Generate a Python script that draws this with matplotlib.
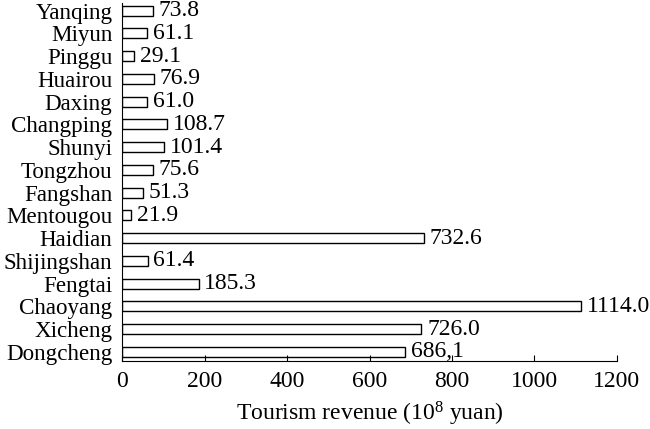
import matplotlib
matplotlib.use("Agg")
import matplotlib.pyplot as plt

districts = ["Dongcheng", "Xicheng", "Chaoyang", "Fengtai", "Shijingshan", "Haidian",
             "Mentougou", "Fangshan", "Tongzhou", "Shunyi", "Changping", "Daxing",
             "Huairou", "Pinggu", "Miyun", "Yanqing"]
revenue = [686.1, 726.0, 1114.0, 185.3, 61.4, 732.6, 21.9, 51.3, 75.6, 101.4,
           108.7, 61.0, 76.9, 29.1, 61.1, 73.8]
value_labels = ["686,1", "726.0", "1114.0", "185.3", "61.4", "732.6", "21.9", "51.3",
                "75.6", "101.4", "108.7", "61.0", "76.9", "29.1", "61.1", "73.8"]
xticks = [0, 200, 400, 600, 800, 1000, 1200]

plt.rcParams['font.family'] = ['Liberation Serif', 'DejaVu Serif']
plt.rcParams['mathtext.fontset'] = 'custom'
plt.rcParams['mathtext.rm'] = 'Liberation Serif'
plt.rcParams['mathtext.it'] = 'Liberation Serif:italic'

fig = plt.figure(figsize=(6.5, 4.29), dpi=100)
ax = fig.add_axes([0.188, 0.1585, 0.761, 0.835])

y = list(range(len(districts)))
ax.barh(y, revenue, height=0.44, color='white', edgecolor='black', linewidth=1.0)
for yi, v, lab in zip(y, revenue, value_labels):
    ax.annotate(lab, xy=(v, yi), xytext=(4, 0), textcoords='offset points',
                va='center', ha='left', fontsize=17)

ax.set_yticks(y)
ax.set_yticklabels(districts, fontsize=16.6)
ax.tick_params(axis='y', length=0, pad=7)
ax.set_xticks(xticks)
ax.set_xticklabels([str(t) for t in xticks], fontsize=17)
ax.tick_params(axis='x', direction='in', length=4, pad=7)
ax.set_xlim(0, 1200)
ax.set_ylim(-0.4, 15.35)
ax.spines['top'].set_visible(False)
ax.spines['right'].set_visible(False)
ax.set_xlabel("Tourism revenue (10$^{\\mathrm{8}}$ yuan)", fontsize=17, labelpad=6)

fig.savefig("out.png", dpi=100)
